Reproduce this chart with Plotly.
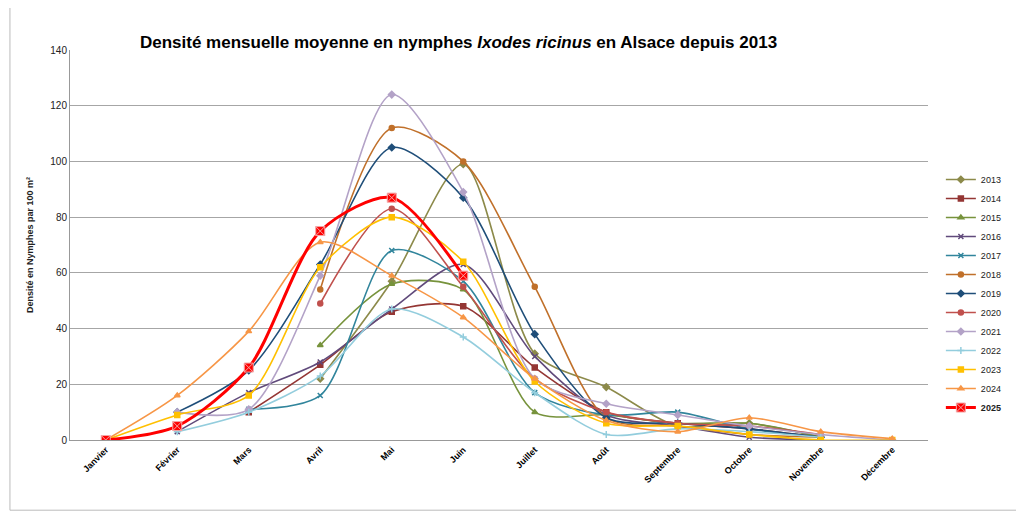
import plotly.graph_objects as go

mois = ["Janvier", "Février", "Mars", "Avril", "Mai", "Juin", "Juillet", "Août",
        "Septembre", "Octobre", "Novembre", "Décembre"]

# valeurs (None = pas de relevé)
d2013 = [None, None, None, 22, 57, 99, 31, 19, 5, 6, 1, None]
d2014 = [None, None, 10, 27, 46, 48, 26, 10, 6, 4, 1, None]
d2015 = [None, None, None, 34, 56, 54, 10, 9, 6, 6, 1, None]
d2016 = [None, 3, 17, 28, 47, 63, 30, 9, 5, 1, 0, None]
d2017 = [None, None, 11, 16, 68, 57, 17, 9, 10, 4, 1, None]
d2018 = [None, None, None, 54, 112, 100, 55, 8, 5, 2, 1, None]
d2019 = [None, 10, 25, 63, 105, 87, 38, 8, 6, 4, 1, None]
d2020 = [None, None, None, 49, 83, 55, 22, 10, 6, 5, 2, None]
d2021 = [None, 10, 11, 59, 124, 89, 22, 13, 9, 5, 2, 0]
d2022 = [None, 3, 10, 23, 47, 37, 17, 2, 4, 3, 1, None]
d2023 = [0, 9, 16, 62, 80, 64, 21, 6, 5, 2, 0, 0]
d2024 = [0, 16, 39, 71, 59, 44, 22, 7, 3, 8, 3, 0.5]
d2025 = [0, 5, 26, 75, 87, 59, None, None, None, None, None, None]

series = [
    ("2013", d2013, "#8c8a4a", "diamond"),
    ("2014", d2014, "#943634", "square"),
    ("2015", d2015, "#77933c", "triangle-up"),
    ("2016", d2016, "#604a7b", "x-thin"),
    ("2017", d2017, "#31859c", "x-thin"),
    ("2018", d2018, "#c0702a", "circle"),
    ("2019", d2019, "#1f4e79", "diamond"),
    ("2020", d2020, "#c0504d", "circle"),
    ("2021", d2021, "#b3a2c7", "diamond"),
    ("2022", d2022, "#93cddd", "cross-thin"),
    ("2023", d2023, "#ffc000", "square"),
    ("2024", d2024, "#f79646", "triangle-up"),
]

fig = go.Figure()
for nom, vals, col, sym in series:
    fig.add_trace(go.Scatter(
        x=mois, y=vals, name=nom, mode="lines+markers",
        line=dict(color=col, width=1.6, shape="spline", smoothing=0.8),
        marker=dict(symbol=sym, size=5, color=col, line=dict(color=col, width=1.5)),
    ))

fig.add_trace(go.Scatter(
    x=mois, y=d2025, name="<b>2025</b>", mode="lines+markers",
    line=dict(color="#ff0000", width=3, shape="spline", smoothing=0.8),
    marker=dict(symbol="square-x", size=9, color="#ff0000",
                line=dict(color="#f4a6a6", width=1)),
))

fig.update_layout(
    width=1024, height=514,
    paper_bgcolor="white", plot_bgcolor="white",
    font=dict(family="Liberation Sans, Arial", color="#222"),
    title=dict(text="<b>Densité mensuelle moyenne en nymphes <i>Ixodes ricinus</i> en Alsace depuis 2013</b>",
               x=0.44, xanchor="center", y=0.945, font=dict(size=17, color="black")),
    margin=dict(l=62, r=104, t=42, b=82),
    showlegend=True,
    legend=dict(x=1.015, y=0.705, yanchor="top", font=dict(size=9),
                tracegroupgap=0, itemwidth=30, bgcolor="rgba(0,0,0,0)"),
    xaxis=dict(tickangle=-45, tickfont=dict(size=9, color="black", weight="bold"),
               showline=True, linecolor="#999", showgrid=False,
               range=[-0.5, 11.5]),
    yaxis=dict(range=[0, 140], dtick=20, showgrid=True, gridcolor="#a6a6a6",
               showline=True, linecolor="#999", tickfont=dict(size=10),
               title=dict(text="<b>Densité en Nymphes par 100 m²</b>", font=dict(size=9))),
)

fig.add_shape(type="rect", xref="paper", yref="paper", x0=-0.07, y0=-0.18,
              x1=1.117, y1=1.12, line=dict(color="#bbb", width=1))

fig.write_html("out.html")
